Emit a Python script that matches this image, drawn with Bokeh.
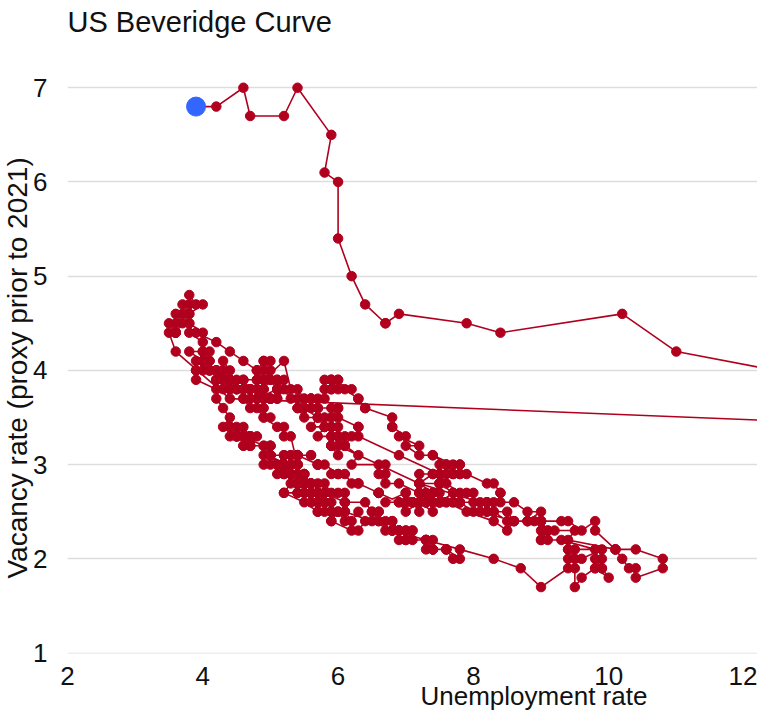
import math
from bokeh.plotting import figure
from bokeh.models import Range1d, Label, FixedTicker, ColumnDataSource, Title
from bokeh.embed import file_html
from bokeh.resources import INLINE

# ---- data: monthly unemployment rate (u) and vacancy rate (v) ----
u_1970s = [3.9,4.2,4.4,4.6,4.8,4.9,5.0,5.1,5.4,5.5,5.9,6.1,
           5.9,5.9,6.0,5.9,5.9,5.9,6.0,6.1,6.0,5.8,6.0,6.0,
           5.8,5.7,5.8,5.7,5.7,5.7,5.6,5.6,5.5,5.6,5.3,5.2,
           4.9,5.0,4.9,5.0,4.9,4.9,4.8,4.8,4.8,4.6,4.8,4.9,
           5.1,5.2,5.1,5.1,5.1,5.4,5.5,5.5,5.9,6.0,6.6,7.2,
           8.1,8.1,8.6,8.8,9.0,8.8,8.6,8.4,8.4,8.4,8.3,8.2,
           7.9,7.7,7.6,7.7,7.4,7.6,7.8,7.8,7.6,7.7,7.8,7.8,
           7.5,7.6,7.4,7.2,7.0,7.2,6.9,7.0,6.8,6.8,6.8,6.4,
           6.4,6.3,6.3,6.1,6.0,5.9,6.2,5.9,6.0,5.8,5.9,6.0,
           5.9,5.9,5.8,5.8,5.6,5.7,5.7,6.0,5.9,6.0,5.9,6.0]
v_1970s = [4.4,4.3,4.2,4.1,4.0,3.9,3.9,3.8,3.7,3.6,3.4,3.3,
           3.2,3.2,3.1,3.2,3.2,3.3,3.3,3.2,3.3,3.4,3.3,3.4,
           3.4,3.5,3.5,3.5,3.6,3.6,3.6,3.7,3.7,3.7,3.8,4.1,
           3.9,4.0,4.0,4.1,4.1,4.1,4.0,4.0,3.9,3.9,3.9,3.9,
           3.9,3.9,3.8,3.9,3.8,3.8,3.7,3.6,3.4,3.2,3.0,2.8,
           2.6,2.5,2.4,2.4,2.5,2.5,2.6,2.6,2.7,2.7,2.8,2.8,
           2.9,2.9,3.0,3.0,3.1,3.0,3.0,2.9,2.9,2.9,2.9,3.0,
           3.0,3.0,3.1,3.1,3.2,3.2,3.3,3.3,3.4,3.4,3.5,3.6,
           3.6,3.7,3.7,3.8,3.8,3.9,3.8,3.9,3.9,3.9,3.9,3.9,
           3.8,3.8,3.8,3.7,3.7,3.7,3.6,3.6,3.6,3.6,3.5,3.5]

u_1980s = [6.3,6.3,6.3,6.9,7.5,7.6,7.8,7.7,7.5,7.5,7.5,7.2,
           7.5,7.4,7.4,7.2,7.5,7.5,7.2,7.4,7.6,7.9,8.3,8.5,
           8.6,8.9,9.0,9.3,9.4,9.6,9.8,9.8,10.1,10.4,10.8,10.8,
           10.4,10.4,10.3,10.2,10.1,10.1,9.4,9.5,9.2,8.8,8.5,8.3,
           8.0,7.8,7.8,7.7,7.4,7.2,7.5,7.5,7.3,7.4,7.2,7.3,
           7.3,7.2,7.2,7.3,7.2,7.4,7.4,7.1,7.1,7.1,7.0,7.0,
           6.7,7.2,7.2,7.1,7.2,7.2,7.0,6.9,7.0,7.0,6.9,6.6,
           6.6,6.6,6.6,6.3,6.3,6.2,6.1,6.0,5.9,6.0,5.8,5.7,
           5.7,5.7,5.7,5.4,5.6,5.4,5.4,5.6,5.4,5.4,5.3,5.3,
           5.4,5.2,5.0,5.2,5.2,5.3,5.2,5.2,5.3,5.3,5.4,5.4]
v_1980s = [3.4,3.4,3.3,3.1,2.9,2.8,2.7,2.7,2.8,2.8,2.9,2.9,
           2.9,2.9,2.9,2.8,2.8,2.8,2.8,2.7,2.6,2.5,2.4,2.3,
           2.4,2.4,2.4,2.4,2.4,2.3,2.4,2.3,2.1,2.1,2.0,1.9,
           1.8,1.9,1.9,2.0,2.1,2.1,2.2,2.3,2.3,2.4,2.4,2.5,
           2.5,2.6,2.6,2.6,2.7,2.7,2.6,2.6,2.6,2.6,2.6,2.7,
           2.6,2.6,2.6,2.6,2.6,2.5,2.6,2.6,2.6,2.6,2.7,2.7,
           2.6,2.6,2.5,2.6,2.6,2.6,2.5,2.6,2.6,2.6,2.6,2.7,
           2.7,2.7,2.7,2.8,2.8,2.8,2.9,2.9,2.9,2.9,3.0,3.0,
           3.0,3.0,3.0,3.1,3.1,3.1,3.1,3.1,3.1,3.1,3.1,3.1,
           3.1,3.1,3.1,3.0,3.0,3.0,2.9,2.9,2.9,2.9,2.8,2.8]

u_1990s = [5.4,5.3,5.2,5.4,5.4,5.2,5.5,5.7,5.9,5.9,6.2,6.3,
           6.4,6.6,6.8,6.7,6.9,6.9,6.8,6.9,6.9,7.0,7.0,7.3,
           7.3,7.4,7.4,7.4,7.6,7.8,7.7,7.6,7.6,7.3,7.4,7.4,
           7.3,7.1,7.0,7.1,7.1,7.0,6.9,6.8,6.7,6.8,6.6,6.5,
           6.6,6.6,6.5,6.4,6.1,6.1,6.1,6.0,5.9,5.8,5.6,5.5,
           5.6,5.4,5.4,5.8,5.6,5.6,5.7,5.7,5.6,5.5,5.6,5.6,
           5.6,5.5,5.5,5.6,5.6,5.3,5.5,5.1,5.2,5.2,5.4,5.4,
           5.3,5.2,5.2,5.1,4.9,5.0,4.9,4.8,4.9,4.7,4.6,4.7,
           4.6,4.6,4.7,4.3,4.4,4.5,4.5,4.5,4.6,4.5,4.4,4.4,
           4.3,4.4,4.2,4.3,4.2,4.3,4.3,4.2,4.2,4.1,4.1,4.0]
v_1990s = [2.8,2.8,2.7,2.7,2.7,2.7,2.6,2.5,2.5,2.4,2.3,2.3,
           2.4,2.4,2.3,2.3,2.3,2.3,2.3,2.3,2.2,2.2,2.2,2.2,
           2.2,2.1,2.1,2.1,2.1,2.0,2.0,2.1,2.1,2.1,2.1,2.2,
           2.2,2.2,2.3,2.3,2.3,2.3,2.3,2.4,2.4,2.4,2.4,2.5,
           2.5,2.5,2.5,2.6,2.6,2.6,2.7,2.7,2.7,2.8,2.8,2.9,
           2.8,2.8,2.8,2.7,2.7,2.7,2.7,2.7,2.7,2.7,2.7,2.7,
           2.7,2.7,2.8,2.8,2.8,2.9,2.9,2.9,3.0,3.0,3.0,3.0,
           3.3,3.3,3.4,3.4,3.5,3.5,3.5,3.6,3.6,3.6,3.7,3.7,
           3.7,3.8,3.8,3.8,3.8,3.8,3.9,3.8,3.8,3.8,3.9,3.9,
           3.9,3.9,3.9,3.9,3.9,4.0,3.9,4.0,4.0,4.0,4.1,4.1]

u_2000s = [4.0,4.1,4.0,3.8,4.0,4.0,4.0,4.1,3.9,3.9,3.9,3.9,
           4.2,4.2,4.3,4.4,4.3,4.5,4.6,4.9,5.0,5.3,5.5,5.7,
           5.7,5.7,5.7,5.9,5.8,5.8,5.8,5.7,5.7,5.7,5.9,6.0,
           5.8,5.9,5.9,6.0,6.1,6.3,6.2,6.1,6.1,6.0,5.8,5.7,
           5.7,5.6,5.8,5.6,5.6,5.6,5.5,5.4,5.4,5.5,5.4,5.4,
           5.3,5.4,5.2,5.2,5.1,5.0,5.0,4.9,5.0,5.0,5.0,4.9,
           4.7,4.8,4.7,4.7,4.6,4.6,4.7,4.7,4.5,4.4,4.5,4.4,
           4.6,4.5,4.4,4.5,4.4,4.6,4.7,4.6,4.7,4.7,4.7,5.0,
           5.0,4.9,5.1,5.0,5.4,5.6,5.8,6.1,6.1,6.5,6.8,7.3,
           7.8,8.3,8.7,9.0,9.4,9.5,9.5,9.6,9.8,10.0,9.9,9.9]
v_2000s = [4.1,4.1,4.2,4.2,4.1,4.1,4.0,4.0,4.1,4.0,4.0,3.9,
           3.8,3.7,3.6,3.5,3.4,3.3,3.3,3.2,3.1,2.9,2.8,2.8,
           2.7,2.6,2.7,2.6,2.6,2.6,2.7,2.6,2.5,2.6,2.5,2.5,
           2.5,2.5,2.4,2.5,2.4,2.5,2.4,2.5,2.5,2.5,2.6,2.6,
           2.6,2.6,2.7,2.7,2.8,2.8,2.8,2.8,2.8,2.9,2.9,3.0,
           3.0,3.0,3.0,3.1,3.0,3.1,3.1,3.1,3.2,3.2,3.1,3.2,
           3.2,3.3,3.3,3.3,3.2,3.3,3.3,3.2,3.3,3.4,3.3,3.4,
           3.3,3.4,3.4,3.3,3.3,3.4,3.3,3.2,3.2,3.3,3.2,3.2,
           3.1,3.0,3.0,3.0,2.9,2.8,2.7,2.6,2.5,2.4,2.3,2.2,
           2.1,2.0,1.9,1.7,1.9,1.9,1.7,1.8,1.9,1.8,1.9,1.9]

u_2010s = [9.8,9.8,9.9,9.9,9.6,9.4,9.4,9.5,9.5,9.4,9.8,9.3,
           9.1,9.0,9.0,9.1,9.0,9.1,9.0,9.0,9.0,8.8,8.6,8.5,
           8.3,8.3,8.2,8.2,8.2,8.2,8.2,8.0,7.8,7.8,7.7,7.9,
           8.0,7.7,7.5,7.6,7.5,7.5,7.3,7.2,7.2,7.2,6.9,6.7,
           6.6,6.7,6.7,6.2,6.3,6.1,6.2,6.1,5.9,5.7,5.8,5.6,
           5.7,5.5,5.4,5.4,5.6,5.3,5.2,5.1,5.0,5.0,5.1,5.0,
           4.8,4.9,5.0,5.1,4.8,4.9,4.8,4.9,5.0,4.9,4.7,4.7,
           4.7,4.6,4.4,4.4,4.4,4.3,4.3,4.4,4.3,4.2,4.2,4.1,
           4.0,4.1,4.0,4.0,3.8,4.0,3.8,3.8,3.7,3.8,3.8,3.9,
           4.0,3.8,3.8,3.7,3.6,3.6,3.7,3.6,3.5,3.6,3.6,3.6]
v_2010s = [2.0,1.9,2.0,2.1,2.0,2.0,2.1,2.1,2.0,2.1,2.1,2.2,
           2.2,2.2,2.3,2.3,2.2,2.3,2.4,2.4,2.4,2.4,2.4,2.5,
           2.5,2.6,2.6,2.5,2.6,2.6,2.5,2.6,2.6,2.6,2.6,2.7,
           2.7,2.7,2.6,2.6,2.6,2.7,2.6,2.7,2.7,2.7,2.8,2.8,
           2.9,2.9,3.0,3.0,3.1,3.2,3.3,3.2,3.3,3.3,3.4,3.4,
           3.5,3.5,3.6,3.6,3.7,3.7,3.8,3.7,3.7,3.7,3.7,3.7,
           3.7,3.8,3.9,3.8,3.7,3.8,3.8,3.7,3.7,3.7,3.8,3.8,
           3.8,3.9,3.9,3.9,3.8,3.9,3.9,4.0,4.1,3.9,4.0,4.0,
           4.1,4.2,4.2,4.3,4.4,4.4,4.5,4.6,4.7,4.7,4.8,4.7,
           4.7,4.6,4.5,4.6,4.5,4.6,4.5,4.4,4.5,4.4,4.4,4.4]

u_2020s = [3.5,3.6,4.4,14.7,13.2,11.0,10.2,8.4,7.9,6.9,6.7,6.7,
           6.4,6.2,6.0,6.0,5.8,5.9,5.4,5.2,4.7,4.6,4.2,3.9]
v_2020s = [4.4,4.2,3.7,3.4,3.9,4.2,4.6,4.4,4.5,4.6,4.5,4.5,
           4.7,5.0,5.4,6.0,6.1,6.5,7.0,6.7,6.7,7.0,6.8,6.8]

x_ticks = [2, 4, 6, 8, 10, 12]
y_ticks = [1, 2, 3, 4, 5, 6, 7]

title_text = "US Beveridge Curve"
x_label = "Unemployment rate"
y_label = "Vacancy rate (proxy prior to 2021)"

# ---- build ----
u_all = u_1970s + u_1980s + u_1990s + u_2000s + u_2010s + u_2020s
v_all = v_1970s + v_1980s + v_1990s + v_2000s + v_2010s + v_2020s

RED = "#B0001E"
BLUE = "#3366FF"
FONT = "Liberation Sans"
TXT = "#111111"

src = ColumnDataSource(dict(u=u_all, v=v_all))
last = ColumnDataSource(dict(u=[u_all[-1]], v=[v_all[-1]]))

p = figure(width=757, height=717, output_backend="svg", toolbar_location=None,
           x_range=Range1d(2, 12.2), y_range=Range1d(0.995, 7.926),
           min_border_left=67, min_border_right=0, min_border_top=0,
           min_border_bottom=64)
p.outline_line_color = None
p.background_fill_color = "white"
p.border_fill_color = "white"
p.xgrid.visible = False
p.ygrid.grid_line_color = "#dddddd"
p.ygrid.grid_line_width = 1.5

p.xaxis.ticker = FixedTicker(ticks=x_ticks)
p.yaxis.ticker = FixedTicker(ticks=y_ticks)
for ax in (p.xaxis, p.yaxis):
    ax.axis_line_color = None
    ax.major_tick_line_color = None
    ax.minor_tick_line_color = None
    ax.major_tick_in = 0
    ax.major_tick_out = 0
    ax.major_label_text_font = FONT
    ax.major_label_text_font_size = "26px"
    ax.major_label_text_color = TXT
p.xaxis.major_label_standoff = 13
p.yaxis.major_label_standoff = 20

p.add_layout(Title(text=y_label, text_font=FONT, text_font_size="28px",
                   text_font_style="normal", text_color=TXT,
                   align="left", offset=75, standoff=-4,
                   vertical_align="bottom"), "left")

p.add_layout(Title(text=x_label, text_font=FONT, text_font_size="26px",
                   text_font_style="normal", text_color=TXT,
                   align="left", offset=353, standoff=-18,
                   vertical_align="bottom"), "below")

p.line("u", "v", source=src, line_color=RED, line_width=1.6)
p.scatter("u", "v", source=src, size=9.5, fill_color=RED, line_color=RED)
p.scatter("u", "v", source=last, size=19, fill_color=BLUE, line_color=BLUE)

p.add_layout(Label(x=2.0, y=7.696, text=title_text, text_font=FONT,
                   text_font_size="29px", text_color=TXT,
                   text_align="left", text_baseline="alphabetic"))

open("out.html", "w").write(file_html(p, INLINE))
